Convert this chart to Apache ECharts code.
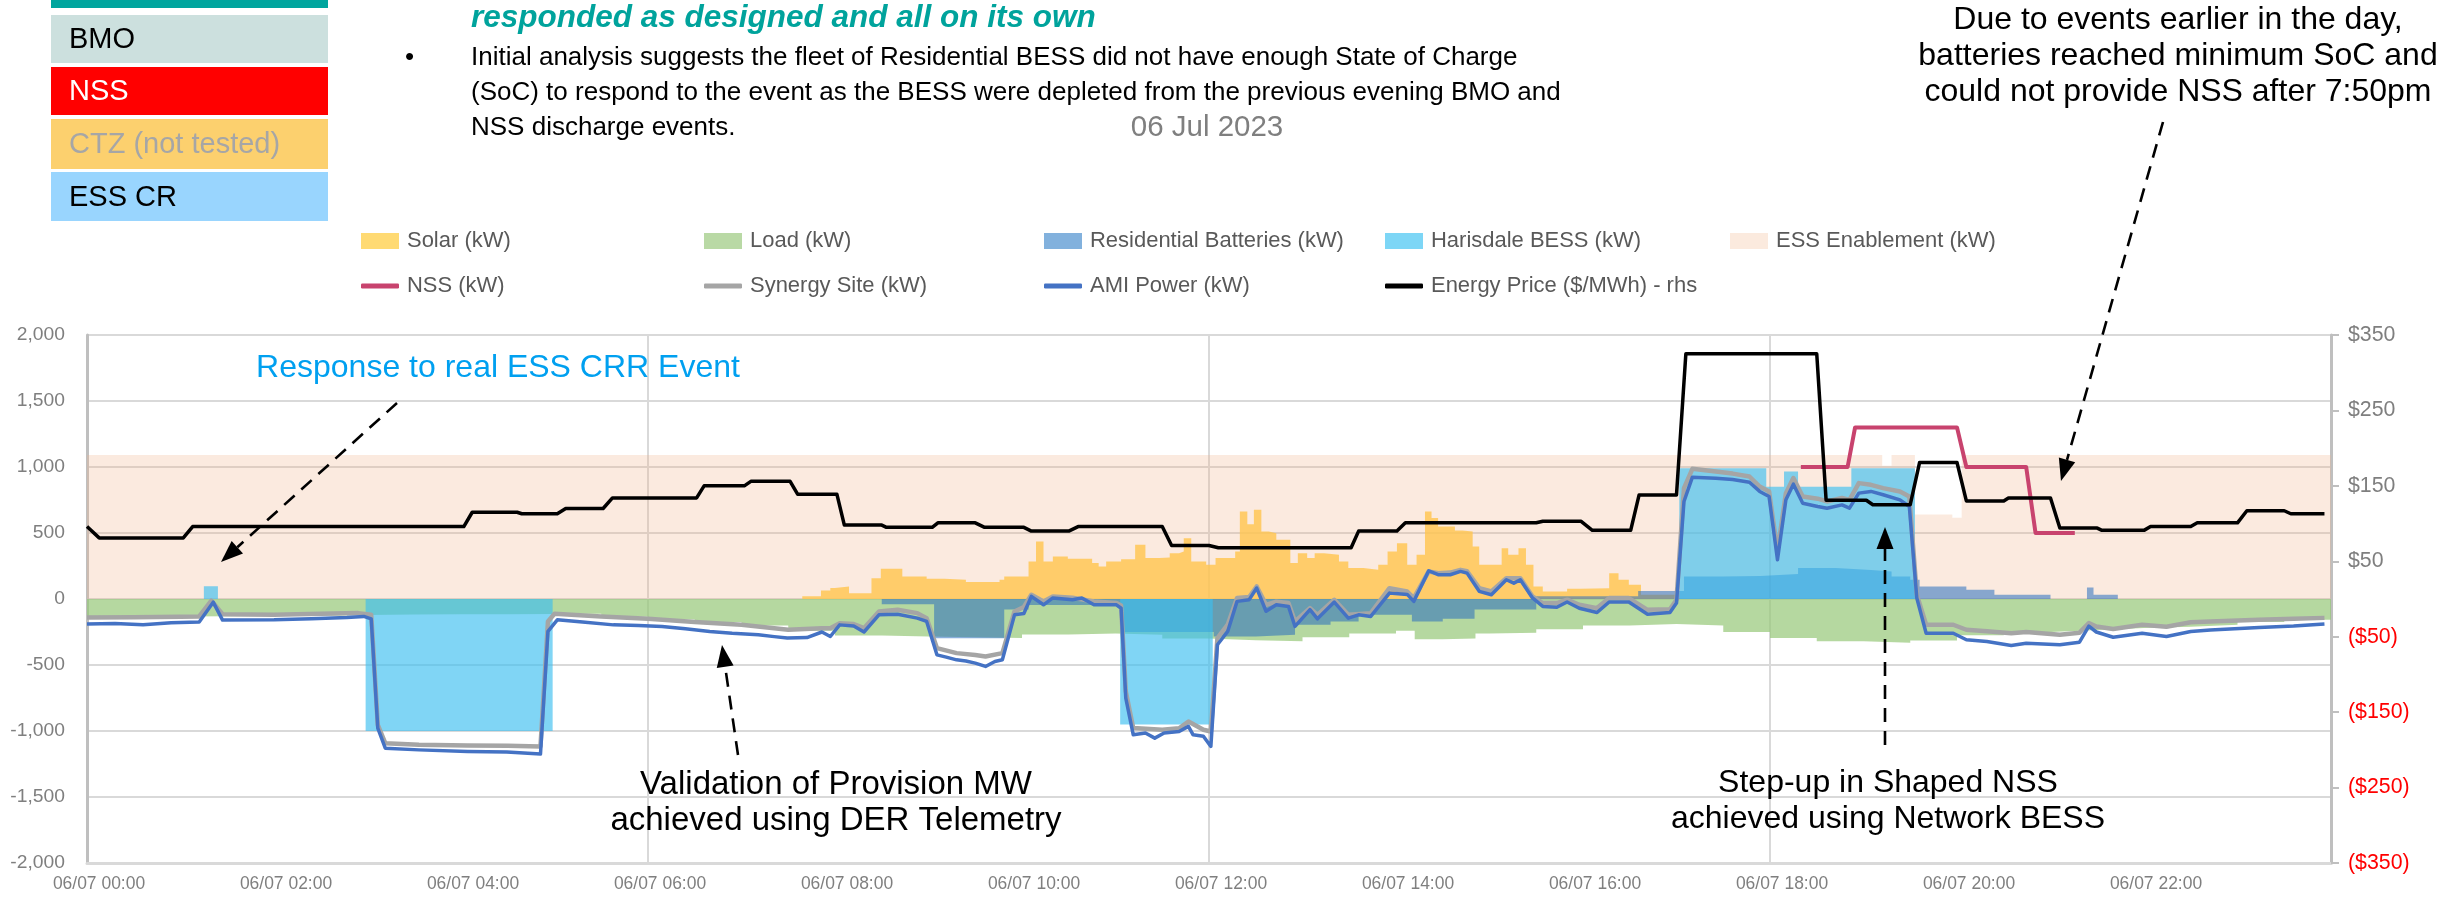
<!DOCTYPE html>
<html>
<head>
<meta charset="utf-8">
<script src="https://cdn.jsdelivr.net/npm/echarts@6/dist/echarts.min.js"></script>
<style>
  html, body { margin: 0; padding: 0; background: #ffffff; }
  #chart { width: 2448px; height: 903px; }
</style>
</head>
<body>
<div id="chart"></div>
<script>
// ---- Data: 06 Jul 2023, hour of day vs kW (lhs) and $/MWh (rhs) ----
const xTickLabels = ['06/07 00:00', '06/07 02:00', '06/07 04:00', '06/07 06:00', '06/07 08:00',
  '06/07 10:00', '06/07 12:00', '06/07 14:00', '06/07 16:00', '06/07 18:00', '06/07 20:00', '06/07 22:00'];

// interval columns: [start hour, kW]
const essEnablementKW = [[0, 1090], [19.2, 1010], [19.3, 1090], [19.55, 640], [19.95, 615], [20.05, 1090], [24, 1090]];

const loadKW = [[0, -135], [0.5, -132], [1.0, -130], [1.5, -128], [2.0, -126], [2.5, -122], [3.0, -118], [3.5, -116],
  [4.0, -115], [4.5, -114], [5.0, -112], [5.5, -135], [6.0, -155], [6.5, -175], [7.0, -200], [7.5, -240], [8.0, -276],
  [8.5, -284], [9.0, -290], [9.5, -295], [10.0, -268], [10.5, -262], [11.0, -270], [11.5, -300], [12.0, -312],
  [12.5, -320], [13.0, -290], [13.5, -262], [14.0, -240], [14.2, -305], [14.5, -300], [14.85, -262], [15.0, -255],
  [15.5, -230], [16.0, -200], [16.5, -190], [17.0, -200], [17.5, -250], [18.0, -295], [18.5, -320], [19.0, -332],
  [19.5, -315], [20.0, -275], [20.5, -250], [21.0, -235], [21.5, -220], [22.0, -210], [22.5, -195], [23.0, -175],
  [23.5, -158], [24.0, -150]];

const solarKW = [[0, 0], [7.5, 0], [7.65, 20], [7.85, 65], [7.95, 83], [8.0, 95], [8.15, 44], [8.39, 158], [8.49, 229],
  [8.72, 171], [8.98, 153], [9.17, 145], [9.4, 128], [9.76, 145], [9.81, 171], [10.07, 284], [10.15, 436], [10.23, 284],
  [10.33, 322], [10.49, 304], [10.75, 272], [10.82, 246], [10.9, 284], [11.06, 302], [11.21, 411], [11.32, 310],
  [11.47, 315], [11.58, 347], [11.68, 360], [11.73, 461], [11.81, 284], [11.97, 259], [12.07, 310], [12.28, 360],
  [12.33, 663], [12.41, 567], [12.48, 676], [12.56, 512], [12.64, 499], [12.72, 448], [12.87, 272], [12.95, 347],
  [13.05, 310], [13.13, 347], [13.23, 335], [13.39, 284], [13.49, 234], [13.65, 221], [13.81, 259], [13.91, 360],
  [14.01, 423], [14.12, 259], [14.22, 335], [14.31, 663], [14.38, 613], [14.45, 550], [14.63, 519], [14.71, 512],
  [14.82, 398], [14.89, 259], [15.13, 385], [15.2, 335], [15.31, 385], [15.39, 259], [15.47, 95], [15.57, 57],
  [15.83, 77], [15.97, 82], [16.28, 196], [16.38, 145], [16.49, 108], [16.62, 32], [17.0, 0], [24, 0]];

const residentialKW = [[0, 0], [8.5, -40], [9.06, -297], [9.81, -80], [10.07, -45], [11.06, -250], [12.05, -284],
  [12.5, -270], [12.92, -196], [13.3, -170], [13.6, -120], [14.17, -170], [14.5, -150], [14.84, -80], [15.5, 20],
  [16.0, 20], [16.59, 60], [17.08, 170], [17.5, 175], [17.9, 190], [18.3, 234], [18.7, 220], [19.08, 208],
  [19.3, 170], [19.5, 145], [19.6, 95], [20.1, 70], [20.4, 32], [21.0, 0], [21.39, 87], [21.46, 32], [21.72, 0], [24, 0]];

const harisdaleKW = [[0, 0], [1.25, 96], [1.4, 0], [2.98, -1000], [4.98, 0], [11.05, -950], [12.04, 0],
  [17.03, 990], [17.96, 850], [18.15, 965], [18.3, 850], [18.87, 990], [19.55, 0], [24, 0]];

// line traces: [hour, kW]
const nssKW = [[18.33, 1000], [18.83, 1000], [18.91, 1300], [20.0, 1300], [20.1, 1000], [20.74, 1000], [20.84, 500], [21.26, 500]];

const synergyKW = [[0.00, -140], [0.5, -138], [1.0, -135], [1.2, -132], [1.33, -13], [1.45, -115], [2.0, -120],
  [2.5, -112], [2.9, -107], [3.04, -120], [3.11, -953], [3.19, -1092], [3.55, -1104], [4.07, -1110], [4.5, -1112],
  [4.85, -1117], [4.93, -170], [5.0, -112], [5.5, -132], [6.0, -150], [6.5, -175], [7.0, -195], [7.5, -233],
  [7.86, -221], [7.95, -221], [8.05, -183], [8.2, -190], [8.31, -221], [8.47, -94], [8.67, -82], [8.88, -107],
  [8.98, -145], [9.09, -372], [9.3, -410], [9.5, -425], [9.61, -435], [9.79, -410], [9.92, -94], [10.02, -60],
  [10.1, 32], [10.23, -19], [10.33, 19], [10.54, 10], [10.77, -19], [11.01, -31], [11.06, -50], [11.11, -700],
  [11.19, -978], [11.5, -991], [11.68, -980], [11.78, -928], [11.94, -991], [12.02, -1004], [12.09, -297],
  [12.2, -195], [12.3, 7], [12.43, 15], [12.51, 95], [12.61, -44], [12.72, -20], [12.85, -30], [12.92, -170],
  [13.08, -69], [13.16, -120], [13.34, -6], [13.49, -120], [13.73, -107], [13.93, 82], [14.12, 57], [14.19, 7],
  [14.35, 209], [14.45, 196], [14.58, 200], [14.69, 221], [14.76, 210], [14.89, 82], [15.02, 57], [15.18, 158],
  [15.33, 158], [15.46, 19], [15.57, -31], [15.72, -31], [15.83, -5], [15.96, -44], [16.15, -69], [16.28, 7],
  [16.49, 7], [16.69, -82], [16.93, -77], [17.0, -6], [17.08, 840], [17.17, 986], [17.42, 966], [17.6, 950],
  [17.78, 928], [17.89, 852], [17.99, 815], [18.08, 360], [18.17, 802], [18.25, 916], [18.35, 777], [18.51, 760],
  [18.61, 739], [18.77, 765], [18.85, 751], [18.95, 878], [19.08, 865], [19.21, 840], [19.39, 815], [19.49, 777],
  [19.57, 32], [19.67, -195], [19.96, -195], [20.1, -233], [20.32, -245], [20.58, -259], [20.74, -250], [21.1, -271],
  [21.31, -255], [21.41, -183], [21.49, -208], [21.67, -228], [21.98, -195], [22.24, -210], [22.5, -176],
  [22.71, -170], [23.23, -157], [23.6, -150], [23.93, -143]];

const amiKW = [[0.00, -190], [0.3, -185], [0.6, -195], [0.9, -180], [1.2, -175], [1.35, -24], [1.45, -160], [2.0, -158],
  [2.4, -150], [2.78, -140], [2.96, -132], [3.04, -150], [3.11, -978], [3.19, -1130], [3.55, -1143], [4.07, -1155],
  [4.49, -1160], [4.85, -1175], [4.93, -246], [5.03, -158], [5.3, -175], [5.63, -196], [5.9, -200], [6.15, -208],
  [6.4, -225], [6.66, -246], [6.9, -260], [7.18, -271], [7.35, -285], [7.49, -296], [7.7, -292], [7.86, -250],
  [7.95, -284], [8.05, -196], [8.2, -205], [8.31, -250], [8.47, -120], [8.67, -115], [8.88, -145], [8.98, -170],
  [9.09, -423], [9.19, -440], [9.3, -461], [9.4, -470], [9.5, -486], [9.61, -511], [9.71, -473], [9.79, -460],
  [9.92, -120], [10.02, -110], [10.1, 20], [10.23, -44], [10.33, 8], [10.54, -5], [10.64, 8], [10.77, -44],
  [11.01, -44], [11.06, -70], [11.11, -751], [11.19, -1029], [11.32, -1015], [11.42, -1054], [11.52, -1015],
  [11.68, -1004], [11.78, -965], [11.83, -1029], [11.94, -1040], [12.02, -1117], [12.09, -347], [12.2, -246],
  [12.3, -18], [12.43, -5], [12.51, 83], [12.61, -93], [12.72, -44], [12.85, -56], [12.92, -208], [13.08, -81],
  [13.16, -150], [13.34, -23], [13.49, -145], [13.6, -120], [13.73, -132], [13.93, 45], [14.12, 35], [14.19, -18],
  [14.35, 214], [14.45, 184], [14.58, 184], [14.69, 209], [14.76, 196], [14.89, 58], [15.02, 32], [15.18, 146],
  [15.26, 120], [15.33, 146], [15.46, 8], [15.57, -56], [15.72, -63], [15.83, -23], [15.96, -70], [16.15, -102],
  [16.28, -23], [16.49, -23], [16.69, -115], [16.93, -102], [17.0, -31], [17.08, 739], [17.17, 923], [17.42, 915],
  [17.6, 905], [17.78, 885], [17.89, 815], [17.99, 777], [18.08, 297], [18.17, 751], [18.25, 870], [18.35, 726],
  [18.51, 701], [18.61, 688], [18.77, 713], [18.85, 688], [18.95, 802], [19.08, 815], [19.21, 790], [19.39, 751],
  [19.49, 701], [19.57, 8], [19.67, -259], [19.96, -259], [20.1, -309], [20.32, -322], [20.58, -352], [20.74, -335],
  [21.1, -347], [21.31, -327], [21.41, -206], [21.49, -250], [21.67, -290], [21.98, -259], [22.24, -284],
  [22.5, -246], [22.71, -234], [23.23, -216], [23.6, -205], [23.93, -190]];

// energy price, $/MWh (rhs)
const priceAUD = [[0.00, 96], [0.13, 81], [1.03, 81], [1.13, 96], [4.03, 96], [4.12, 115], [4.60, 115], [4.65, 113],
  [5.03, 113], [5.12, 120], [5.52, 120], [5.62, 134], [6.52, 134], [6.60, 150], [7.03, 150], [7.10, 156], [7.52, 156],
  [7.60, 139], [8.02, 139], [8.10, 98], [8.50, 98], [8.55, 95], [9.04, 95], [9.10, 101], [9.50, 101], [9.60, 95],
  [10.02, 95], [10.10, 90], [10.50, 90], [10.60, 96], [11.50, 96], [11.60, 71], [12.00, 71], [12.10, 68], [13.52, 68],
  [13.60, 90], [14.01, 90], [14.10, 101], [15.50, 101], [15.57, 103], [15.98, 103], [16.10, 91], [16.51, 91],
  [16.60, 138], [17.00, 138], [17.10, 325], [18.50, 325], [18.60, 131], [19.03, 131], [19.10, 125], [19.50, 125],
  [19.60, 181], [20.00, 181], [20.10, 130], [20.50, 130], [20.55, 134], [21.00, 134], [21.10, 94], [21.50, 94],
  [21.55, 91], [22.00, 91], [22.07, 96], [22.50, 96], [22.57, 101], [23.00, 101], [23.10, 117], [23.50, 117],
  [23.57, 113], [23.93, 113]];

// ---- fonts ----
function hasFont(name) {
  const ctx = document.createElement('canvas').getContext('2d');
  const sample = '06/07 00:00 Solar (kW) $350';
  ctx.font = '40px monospace';
  const a = ctx.measureText(sample).width;
  ctx.font = '40px "' + name + '", monospace';
  const b = ctx.measureText(sample).width;
  return Math.abs(a - b) > 1;
}
const narrowFamily = hasFont('Liberation Sans Narrow') ? 'Liberation Sans Narrow'
  : (hasFont('Arial Narrow') ? 'Arial Narrow' : null);
const labelFamily = narrowFamily || 'Liberation Sans';
const fit = narrowFamily ? 1 : 0.82;
const SANS = 'Liberation Sans, Arial, sans-serif';

// ---- slide overlay helpers ----
function arrow(x1, y1, x2, y2) {
  const dx = x2 - x1, dy = y2 - y1, L = Math.hypot(dx, dy);
  const ux = dx / L, uy = dy / L, len = 22, w = 17;
  const bx = x2 - ux * len, by = y2 - uy * len;
  return [
    { type: 'line', shape: { x1, y1, x2: bx, y2: by },
      style: { stroke: '#000', lineWidth: 2.6, lineDash: [14, 9] }, z: 100 },
    { type: 'polygon', shape: { points: [[x2, y2], [bx - uy * w / 2, by + ux * w / 2], [bx + uy * w / 2, by - ux * w / 2]] },
      style: { fill: '#000' }, z: 100 }
  ];
}
function txt(text, x, y, size, fill, opts) {
  return { type: 'text', x, y, z: 100,
    style: Object.assign({ text, fontSize: size, fontFamily: SANS, fill, align: 'left', verticalAlign: 'middle' }, opts || {}) };
}
function box(y, h, fill, label, color) {
  return [
    { type: 'rect', shape: { x: 51, y, width: 277, height: h }, style: { fill }, z: 90 },
    txt(label, 69, y + h / 2 + 1, 29, color)
  ];
}

const overlay = [
  { type: 'rect', shape: { x: 51, y: 0, width: 277, height: 8 }, style: { fill: '#00A59E' }, z: 90 },
  ...box(15, 48, '#CCE0DE', 'BMO', '#000000'),
  ...box(67, 48, '#FF0000', 'NSS', '#FFFFFF'),
  ...box(119, 50, '#FCD06E', 'CTZ (not tested)', '#A6A6A6'),
  ...box(172, 49, '#99D5FE', 'ESS CR', '#000000'),
  txt('responded as designed and all on its own', 471, 18, 31.5, '#00A39C', { fontWeight: 'bold', fontStyle: 'italic' }),
  txt('\u2022', 405, 58, 26, '#000000'),
  txt('Initial analysis suggests the fleet of Residential BESS did not have enough State of Charge', 471, 58, 26, '#000000'),
  txt('(SoC) to respond to the event as the BESS were depleted from the previous evening BMO and', 471, 93, 26, '#000000'),
  txt('NSS discharge events.', 471, 128, 26, '#000000'),
  txt('06 Jul 2023', 1207, 128, 29.5, '#7F7F7F', { align: 'center' }),
  txt('Due to events earlier in the day,\nbatteries reached minimum SoC and\ncould not provide NSS after 7:50pm',
    2178, 56, 32, '#000000', { align: 'center', lineHeight: 36 }),
  txt('Response to real ESS CRR Event', 498, 368, 32, '#00A0F0', { align: 'center' }),
  txt('Validation of Provision MW\nachieved using DER Telemetry', 836, 803, 33, '#000000', { align: 'center', lineHeight: 36 }),
  txt('Step-up in Shaped NSS\nachieved using Network BESS', 1888, 801, 32, '#000000', { align: 'center', lineHeight: 36 }),
  ...arrow(397, 403, 221, 562),
  ...arrow(738, 755, 722, 645),
  ...arrow(1885, 745, 1885, 527),
  ...arrow(2163, 122, 2061, 481)
];

// ---- legend: one component per entry so they sit on a fixed column grid ----
const legendCols = [361, 704, 1044, 1385, 1730];
const legendText = { color: '#595959', fontSize: 26.8 * fit, fontFamily: labelFamily, padding: [0, 0, 0, 3] };
function legendItem(name, col, row, color, isLine) {
  return {
    data: [name], left: legendCols[col], top: row === 0 ? 230 : 275,
    icon: isLine ? 'roundRect' : 'rect', itemWidth: 38, itemHeight: isLine ? 5 : 16, itemGap: 0,
    itemStyle: { color, borderWidth: 0 }, lineStyle: { width: 0 },
    textStyle: legendText, selectedMode: false, padding: 0
  };
}

function areaSeries(name, data, lineColor, fill) {
  return { name, type: 'line', step: 'end', data, symbol: 'none', silent: true,
    itemStyle: { color: lineColor }, lineStyle: { width: 0 },
    areaStyle: { color: fill, opacity: 1 } };
}
function lineSeries(name, data, color, width, yAxisIndex) {
  return { name, type: 'line', data, symbol: 'none', silent: true, yAxisIndex: yAxisIndex || 0,
    itemStyle: { color }, lineStyle: { color, width, join: 'round' } };
}

const chart = echarts.init(document.getElementById('chart'), null, { renderer: 'canvas' });
chart.setOption({
  animation: false,
  backgroundColor: '#FFFFFF',
  grid: { left: 87, right: 117, top: 335, bottom: 40 },
  legend: [
    legendItem('Solar (kW)', 0, 0, '#FFDA73', false),
    legendItem('Load (kW)', 1, 0, '#B9D9A5', false),
    legendItem('Residential Batteries (kW)', 2, 0, '#82B1DD', false),
    legendItem('Harisdale BESS (kW)', 3, 0, '#7DD6F6', false),
    legendItem('ESS Enablement (kW)', 4, 0, '#FBEADE', false),
    legendItem('NSS (kW)', 0, 1, '#C8436E', true),
    legendItem('Synergy Site (kW)', 1, 1, '#A5A5A5', true),
    legendItem('AMI Power (kW)', 2, 1, '#4472C4', true),
    legendItem('Energy Price ($/MWh) - rhs', 3, 1, '#000000', true)
  ],
  xAxis: [
    { type: 'value', min: 0, max: 24, interval: 2,
      axisLine: { show: true, onZero: false, lineStyle: { color: '#D9D9D9', width: 3 } },
      axisTick: { show: false },
      splitLine: { show: false },
      axisLabel: { color: '#7F7F7F', fontSize: 21.3 * fit, fontFamily: labelFamily, margin: 13,
        padding: [0, 0, 0, 24],
        formatter: v => (v < 24 && xTickLabels[Math.round(v / 2)]) ? xTickLabels[Math.round(v / 2)] : '' } },
    { type: 'value', min: 0, max: 24, interval: 6, position: 'bottom',
      axisLine: { show: false, onZero: false }, axisTick: { show: false }, axisLabel: { show: false },
      splitLine: { show: true, lineStyle: { color: '#D9D9D9', width: 2 } } }
  ],
  yAxis: [
    { type: 'value', min: -2000, max: 2000, interval: 500,
      axisLine: { show: true, onZero: false, lineStyle: { color: '#BFBFBF', width: 3 } },
      axisTick: { show: false },
      splitLine: { show: true, lineStyle: { color: '#D9D9D9', width: 2 } },
      axisLabel: { color: '#7F7F7F', fontSize: 23.5 * fit, fontFamily: labelFamily, margin: 22,
        showMinLabel: true, showMaxLabel: true,
        formatter: v => Number(v).toLocaleString('en-US') } },
    { type: 'value', min: -350, max: 350, interval: 100, position: 'right',
      axisLine: { show: true, onZero: false, lineStyle: { color: '#BFBFBF', width: 3 } },
      axisTick: { show: true, inside: false, length: 8, lineStyle: { color: '#BFBFBF', width: 2 } },
      splitLine: { show: false },
      axisLabel: { fontSize: 26 * fit, fontFamily: labelFamily, margin: 17,
        showMinLabel: true, showMaxLabel: true,
        color: v => (Number(v) < 0 ? '#FF0000' : '#7F7F7F'),
        formatter: v => (v < 0 ? '($' + (-v) + ')' : '$' + v) } }
  ],
  series: [
    areaSeries('ESS Enablement (kW)', essEnablementKW, '#FBEADE', 'rgba(240,180,140,0.28)'),
    areaSeries('Load (kW)', loadKW, '#B9D9A5', 'rgba(150,200,120,0.70)'),
    areaSeries('Solar (kW)', solarKW, '#FFDA73', 'rgba(255,198,80,0.82)'),
    areaSeries('Residential Batteries (kW)', residentialKW, '#82B1DD', 'rgba(40,110,190,0.55)'),
    areaSeries('Harisdale BESS (kW)', harisdaleKW, '#7DD6F6', 'rgba(60,190,240,0.65)'),
    lineSeries('Synergy Site (kW)', synergyKW, '#A5A5A5', 4.5),
    lineSeries('AMI Power (kW)', amiKW, '#4472C4', 3.5),
    lineSeries('NSS (kW)', nssKW, '#C8436E', 4),
    lineSeries('Energy Price ($/MWh) - rhs', priceAUD, '#000000', 3.5, 1)
  ],
  graphic: overlay
});
</script>
</body>
</html>
